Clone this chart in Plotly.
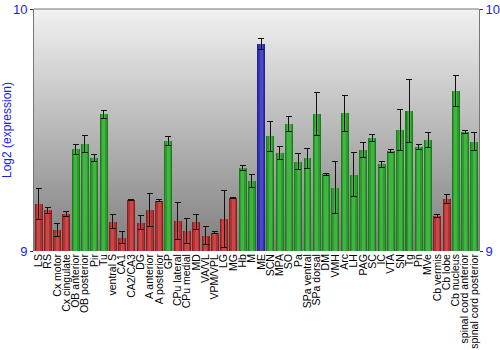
import plotly.graph_objects as go

# Brain regions and mean log2 expression with standard errors
regions = [
    "LS", "RS", "Cx motor", "Cx cingulate", "OB anterior", "OB posterior", "Pir", "Tu",
    "ventral S", "CA1", "CA2/CA3", "DG", "A anterior", "A posterior", "GP", "CPu lateral",
    "CPu medial", "MD", "VA/VL", "VPM/VPL", "LG", "MG", "Hb", "M", "ME", "SCN", "MPA",
    "SO", "Pa", "SPa ventral", "SPa dorsal", "DM", "VMH", "Arc", "LH", "PAG", "SC", "IC",
    "VTA", "SN", "Tg", "Pn", "MVe", "Cb vermis", "Cb lobe", "Cb nucleus",
    "spinal cord anterior", "spinal cord posterior",
]
expression = [
    9.194, 9.168, 9.087, 9.153, 9.420, 9.442, 9.383, 9.565,
    9.120, 9.054, 9.212, 9.116, 9.169, 9.208, 9.455, 9.123,
    9.083, 9.120, 9.063, 9.076, 9.132, 9.220, 9.342, 9.289, 9.855, 9.474, 9.405,
    9.525, 9.369, 9.383, 9.566, 9.317, 9.262, 9.569, 9.315, 9.417, 9.466, 9.358,
    9.413, 9.500, 9.579, 9.430, 9.459, 9.145, 9.214, 9.662,
    9.492, 9.452,
]
std_err = [
    0.063, 0.011, 0.025, 0.012, 0.021, 0.034, 0.014, 0.017,
    0.029, 0.025, 0.002, 0.029, 0.069, 0.004, 0.019, 0.077,
    0.050, 0.030, 0.037, 0.004, 0.116, 0.002, 0.010, 0.026, 0.022, 0.061, 0.026,
    0.031, 0.032, 0.041, 0.087, 0.004, 0.107, 0.074, 0.090, 0.032, 0.014, 0.012,
    0.007, 0.083, 0.130, 0.010, 0.030, 0.007, 0.018, 0.063,
    0.007, 0.036,
]
y_ticks = [9, 10]

LOW_CUTOFF = 9.25
top = max(expression)

# (edge, mid, centre) shades per colour group
PALETTES = {
    "top": ("#222290", "#3434b0", "#4a4ac8"),
    "low": ("#8e1c1c", "#b03232", "#c84848"),
    "mid": ("#1b7d1b", "#2c9c2c", "#42b442"),
}

def group(v):
    if v == top:
        return "top"
    return "low" if v < LOW_CUTOFF else "mid"

groups = [group(v) for v in expression]
xs = list(range(len(regions)))

fig = go.Figure()

# Gray vertical gradient behind the bars
fig.add_trace(go.Heatmap(
    x=[-1, len(regions)], y=[9, 10], z=[[0, 0], [1, 1]],
    colorscale=[[0, "#7e7e7e"], [1, "#f1f1f1"]],
    zsmooth="best", showscale=False, hoverinfo="skip",
))

# Bars drawn in three nested strips for a rounded shading
for layer, width in enumerate([0.86, 0.64, 0.34]):
    last = layer == 2
    fig.add_trace(go.Bar(
        x=xs, y=expression, width=width,
        marker=dict(color=[PALETTES[g][layer] for g in groups], line=dict(width=0)),
        error_y=dict(type="data", array=std_err, color="#111111", thickness=1, width=3) if last else None,
        hovertext=regions if last else None,
        hoverinfo="text+y" if last else "skip",
    ))

# Right-hand mirror axis
fig.add_trace(go.Scatter(
    x=xs, y=expression, yaxis="y2", mode="markers",
    marker=dict(opacity=0), hoverinfo="skip", showlegend=False,
))

fig.update_layout(
    width=500, height=350,
    margin=dict(l=34, r=21, t=9, b=99),
    paper_bgcolor="white", plot_bgcolor="white",
    barmode="overlay", bargap=0, showlegend=False,
    font=dict(family="Liberation Sans, Arial, sans-serif"),
    xaxis=dict(
        range=[-0.5, len(regions) - 0.5],
        tickvals=xs, ticktext=regions, tickangle=-90,
        tickfont=dict(size=10.5, color="black"),
        showgrid=False, zeroline=False, showline=False, ticks="",
        automargin=False,
    ),
    yaxis=dict(
        range=[9, 10], tickvals=y_ticks, ticktext=[str(t) for t in y_ticks],
        tickfont=dict(size=13, color="#1a1aff"),
        title=dict(text="Log2 (expression)", font=dict(size=12, color="#1a1aff"), standoff=4),
        showgrid=False, zeroline=False,
        showline=True, linecolor="#777777", linewidth=1,
        ticks="outside", ticklen=3, tickcolor="#333333",
        automargin=False,
    ),
    yaxis2=dict(
        range=[9, 10], tickvals=y_ticks, ticktext=[str(t) for t in y_ticks],
        tickfont=dict(size=13, color="#1a1aff"),
        overlaying="y", side="right",
        showgrid=False, zeroline=False,
        showline=True, linecolor="#777777", linewidth=1,
        ticks="outside", ticklen=3, tickcolor="#333333",
        automargin=False,
    ),
    shapes=[dict(type="line", xref="paper", yref="paper", x0=0, x1=1, y0=1, y1=1,
                 line=dict(color="#777777", width=1))],
)

fig.write_html("out.html")
